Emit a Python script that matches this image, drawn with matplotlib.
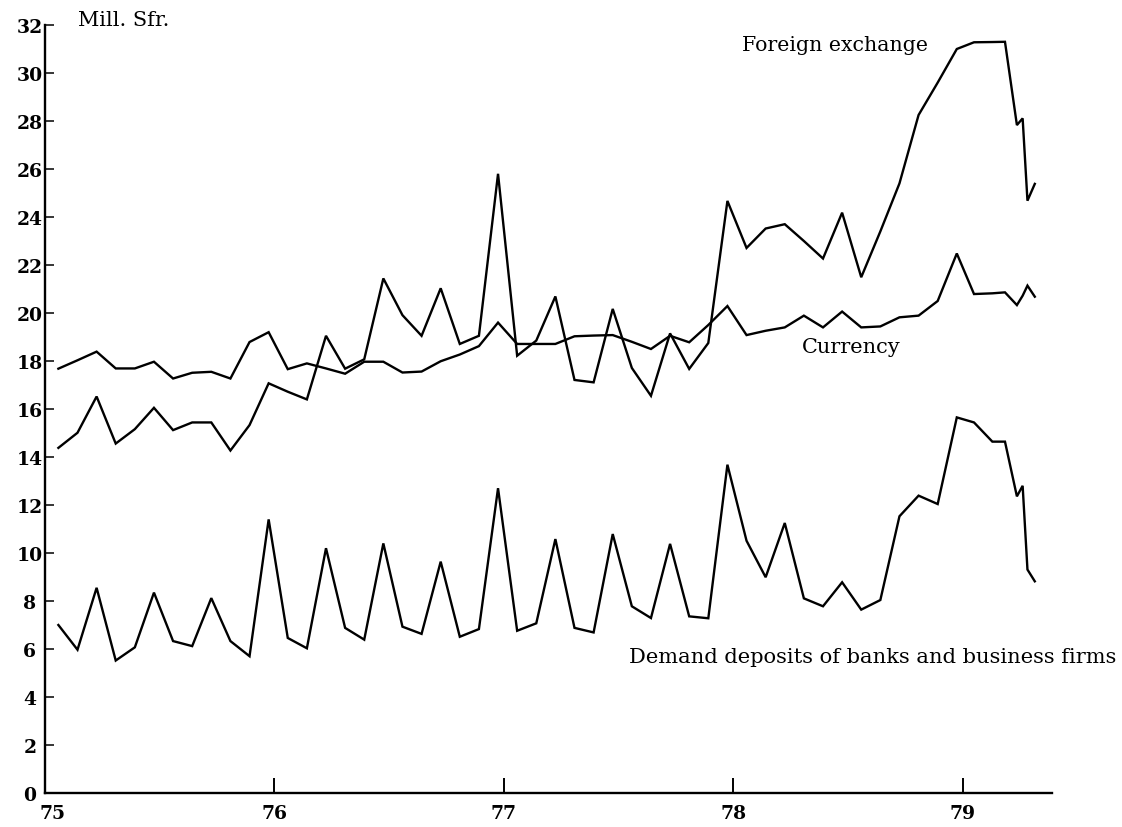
#!/usr/bin/env python3
"""Swiss monetary base components 1975-79, redrawn from the printed chart."""

import matplotlib

matplotlib.use("Agg")
import matplotlib.pyplot as plt
import matplotlib.transforms as mtransforms
import numpy as np


# monthly readings Jan 1975 .. Dec 1978, then the irregular 1979 readings
MONTH_INDEX = np.arange(48)
X_1979 = [79.05, 79.13, 79.185, 79.237, 79.262, 79.283, 79.315]

FOREIGN_EXCHANGE = [
    14.38, 15.01, 16.52, 14.56, 15.16, 16.05, 15.12, 15.44, 15.44, 14.27, 15.33, 17.07,
    16.72, 16.40, 19.05, 17.68, 18.07, 21.44, 19.91, 19.05, 21.03, 18.71, 19.05, 25.80,
    18.22, 18.85, 20.69, 17.21, 17.11, 20.17, 17.71, 16.55, 19.15, 17.67, 18.75, 24.67,
    22.71, 23.52, 23.70, 23.00, 22.27, 24.18, 21.49, 23.40, 25.40, 28.25, 29.60, 31.00,
]
FOREIGN_EXCHANGE_1979 = [31.28, 31.29, 31.30, 27.83, 28.11, 24.68, 25.38]

CURRENCY = [
    17.68, 18.03, 18.39, 17.69, 17.69, 17.97, 17.27, 17.51, 17.55, 17.27, 18.79, 19.20,
    17.66, 17.90, 17.69, 17.47, 17.97, 17.97, 17.52, 17.56, 17.99, 18.27, 18.62, 19.60,
    18.71, 18.71, 18.71, 19.03, 19.06, 19.08, 18.80, 18.50, 19.05, 18.78, 19.50, 20.29,
    19.08, 19.26, 19.40, 19.89, 19.40, 20.06, 19.40, 19.44, 19.82, 19.89, 20.50, 22.48,
]
CURRENCY_1979 = [20.79, 20.82, 20.86, 20.33, 20.72, 21.14, 20.68]

DEMAND_DEPOSITS = [
    7.00, 5.97, 8.55, 5.52, 6.07, 8.35, 6.33, 6.12, 8.12, 6.33, 5.70, 11.40,
    6.46, 6.03, 10.20, 6.88, 6.39, 10.40, 6.93, 6.63, 9.64, 6.51, 6.83, 12.70,
    6.76, 7.07, 10.58, 6.88, 6.69, 10.79, 7.78, 7.29, 10.38, 7.36, 7.28, 13.68,
    10.51, 8.99, 11.25, 8.11, 7.78, 8.78, 7.64, 8.04, 11.53, 12.39, 12.04, 15.65,
]
DEMAND_DEPOSITS_1979 = [15.44, 14.64, 14.64, 12.36, 12.80, 9.31, 8.82]

YEAR_TICKS = [75, 76, 77, 78, 79]
YEAR_LABELS = ["75", "76", "77", "78", "79"]
VALUE_TICKS = list(range(0, 33, 2))

plt.rcParams["font.family"] = ["DejaVu Serif"]


def series(monthly, late):
    x = np.concatenate([75 + (MONTH_INDEX + 0.7) / 12.0, X_1979])
    y = np.concatenate([monthly, late])
    return x, y


def main():
    fig = plt.figure(figsize=(11.22, 8.28), dpi=100, facecolor="white")
    ax = fig.add_axes([45 / 1122, 34 / 828, 1007 / 1122, 768 / 828])

    for monthly, late in (
        (FOREIGN_EXCHANGE, FOREIGN_EXCHANGE_1979),
        (CURRENCY, CURRENCY_1979),
        (DEMAND_DEPOSITS, DEMAND_DEPOSITS_1979),
    ):
        x, y = series(monthly, late)
        ax.plot(x, y, color="black", linewidth=1.7, solid_joinstyle="miter")

    ax.set_xlim(75, 79.39)
    ax.set_ylim(0, 32)
    for side in ("top", "right"):
        ax.spines[side].set_visible(False)
    for side in ("left", "bottom"):
        ax.spines[side].set_linewidth(1.7)

    ax.set_xticks(YEAR_TICKS)
    ax.set_xticklabels(YEAR_LABELS)
    ax.set_yticks(VALUE_TICKS)
    ax.tick_params(axis="x", direction="in", length=11, width=1.4, pad=8,
                   labelsize=13.5)
    ax.tick_params(axis="y", direction="in", length=6.5, width=1.1, pad=11,
                   labelsize=13.5)
    for label in ax.get_xticklabels() + ax.get_yticklabels():
        label.set_fontweight("bold")
    for label in ax.get_yticklabels():
        label.set_horizontalalignment("center")
    # the corner label sits a little right of the origin in the print
    shift = mtransforms.ScaledTranslation(7 / 100, 0, fig.dpi_scale_trans)
    first = ax.get_xticklabels()[0]
    first.set_transform(first.get_transform() + shift)

    ax.text(75.144, 32.0, "Mill. Sfr.", fontsize=15, va="baseline", ha="left")
    ax.text(78.04, 30.95, "Foreign exchange", fontsize=14.8, va="baseline", ha="left")
    ax.text(78.30, 18.38, "Currency", fontsize=15, va="baseline", ha="left")
    ax.text(77.545, 5.46, "Demand deposits of banks and business firms",
            fontsize=15.1, va="baseline", ha="left")

    fig.savefig("out.png", dpi=100, facecolor="white")
    plt.close(fig)


if __name__ == "__main__":
    main()
